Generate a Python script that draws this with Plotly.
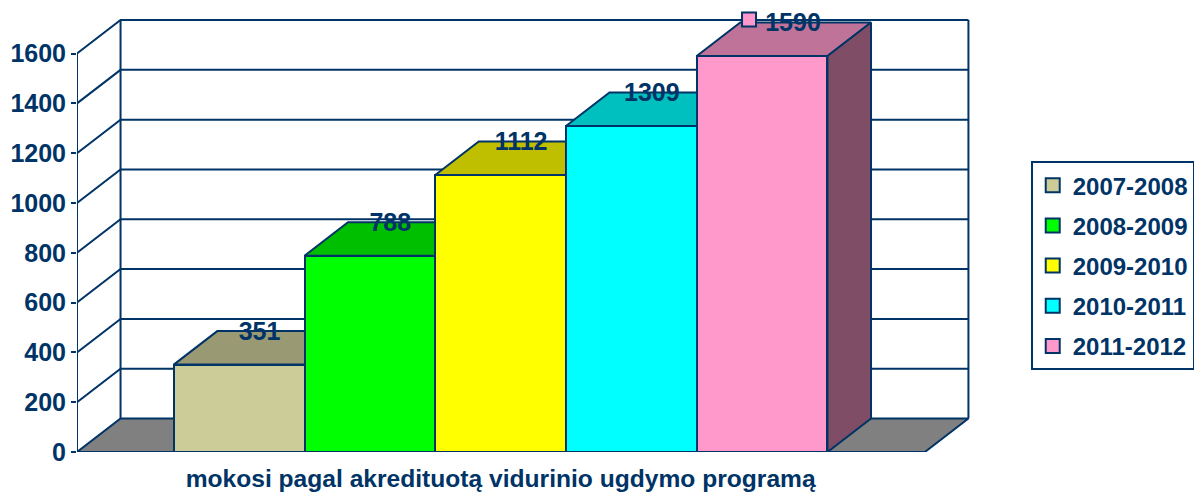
import plotly.graph_objects as go

SEASONS = ["2007-2008", "2008-2009", "2009-2010", "2010-2011", "2011-2012"]
VALUES = [351, 788, 1112, 1309, 1590]
FRONT = ["#CCCC99", "#00FF00", "#FFFF00", "#00FFFF", "#FF99CC"]
TOP = ["#999973", "#00BF00", "#BFBF00", "#00BFBF", "#BF7399"]
SIDE = ["#666650", "#008000", "#808000", "#008080", "#804D66"]
YTICKS = [0, 200, 400, 600, 800, 1000, 1200, 1400, 1600]
CATEGORY_LABEL = "mokosi pagal akredituotą vidurinio ugdymo programą"

INK = "#003366"
FONT = "Liberation Sans"
XL, XR = -1.24, 5.245      # front floor extent
DX, DY = 0.333, 134.5      # depth offset of the 3D box, in axis units
XMAX = 5.59
YMAX = 1815

fig = go.Figure()
line = dict(color=INK, width=2)

# floor
fig.add_trace(go.Scatter(x=[XL, XL + DX, XR + DX, XR, XL], y=[0, DY, DY, 0, 0], mode="lines",
                         fill="toself", fillcolor="#808080", line=line, zorder=0,
                         showlegend=False, hoverinfo="skip", cliponaxis=False))

# walls and gridlines
gx, gy = [], []
for v in YTICKS:
    if v:
        gx += [XL, XL + DX, XR + DX, None]
        gy += [v, v + DY, v + DY, None]
gx += [XL, XL, None, XL + DX, XL + DX, None, XR + DX, XR + DX, None, XL, XL, None, XR, XR]
gy += [0, YTICKS[-1], None, DY, YTICKS[-1] + DY, None, DY, YTICKS[-1] + DY, None, 0, -22, None, 0, -22]
fig.add_trace(go.Scatter(x=gx, y=gy, mode="lines", line=line, zorder=1,
                         showlegend=False, hoverinfo="skip", cliponaxis=False))

# 3D bars
for i, v in enumerate(VALUES):
    l, r = i - 0.5, i + 0.5
    z = 2 + 2 * i
    fig.add_trace(go.Scatter(x=[l, l + DX, r + DX, r, l], y=[v, v + DY, v + DY, v, v], mode="lines",
                             fill="toself", fillcolor=TOP[i], line=line, zorder=z,
                             showlegend=False, hoverinfo="skip", cliponaxis=False))
    fig.add_trace(go.Scatter(x=[r, r + DX, r + DX, r, r], y=[v, v + DY, DY, 0, v], mode="lines",
                             fill="toself", fillcolor=SIDE[i], line=line, zorder=z,
                             showlegend=False, hoverinfo="skip", cliponaxis=False))
    fig.add_trace(go.Bar(x=[i], y=[v], width=1, marker=dict(color=FRONT[i], line=line),
                         zorder=z + 1, showlegend=False, hoverinfo="skip"))

# value labels
for i, v in enumerate(VALUES):
    last = i == len(VALUES) - 1
    fig.add_trace(go.Scatter(x=[i + DX / 2 + (0.07 if last else -0.01)], y=[v + DY + (-8 if last else -10)],
                             mode="text", text=[str(v)],
                             textfont=dict(family=FONT, size=25, color=INK, weight=700),
                             textposition="middle center", zorder=30,
                             showlegend=False, hoverinfo="skip", cliponaxis=False))

# legend keys (the last key is also visible on the chart, beside its value)
for i, s in enumerate(SEASONS):
    last = i == len(SEASONS) - 1
    fig.add_trace(go.Scatter(x=[i - 0.1 if last else None], y=[VALUES[i] + DY + 12 if last else None],
                             mode="markers", name=s, legendgroup=s,
                             marker=dict(symbol="square", size=14, color=FRONT[i], line=line),
                             zorder=31, hoverinfo="skip", cliponaxis=False))

fig.update_layout(
    width=1194, height=492, paper_bgcolor="white", plot_bgcolor="white",
    margin=dict(l=77, r=224, t=0, b=40, autoexpand=False),
    bargap=0, showlegend=True,
    xaxis=dict(range=[XL, XMAX], showgrid=False, zeroline=False, showline=False,
               tickmode="array", tickvals=[2], ticktext=[CATEGORY_LABEL],
               ticks="outside", ticklen=4, tickcolor="rgba(0,0,0,0)",
               tickfont=dict(family=FONT, size=24.6, color=INK, weight=700)),
    yaxis=dict(range=[0, YMAX], showgrid=False, zeroline=False, showline=False,
               tickmode="array", tickvals=YTICKS, ticks="outside", ticklen=5, tickwidth=2,
               tickcolor=INK, tickfont=dict(family=FONT, size=25, color=INK, weight=700)),
    legend=dict(x=1.068, xanchor="left", y=0.6436, yanchor="top", bgcolor="white",
                bordercolor=INK, borderwidth=2, traceorder="grouped", tracegroupgap=6,
                itemsizing="trace", font=dict(family=FONT, size=24, color=INK, weight=700)),
)

fig.write_html("out.html", config={"displayModeBar": False},
               post_script="document.body.style.margin='0';")
